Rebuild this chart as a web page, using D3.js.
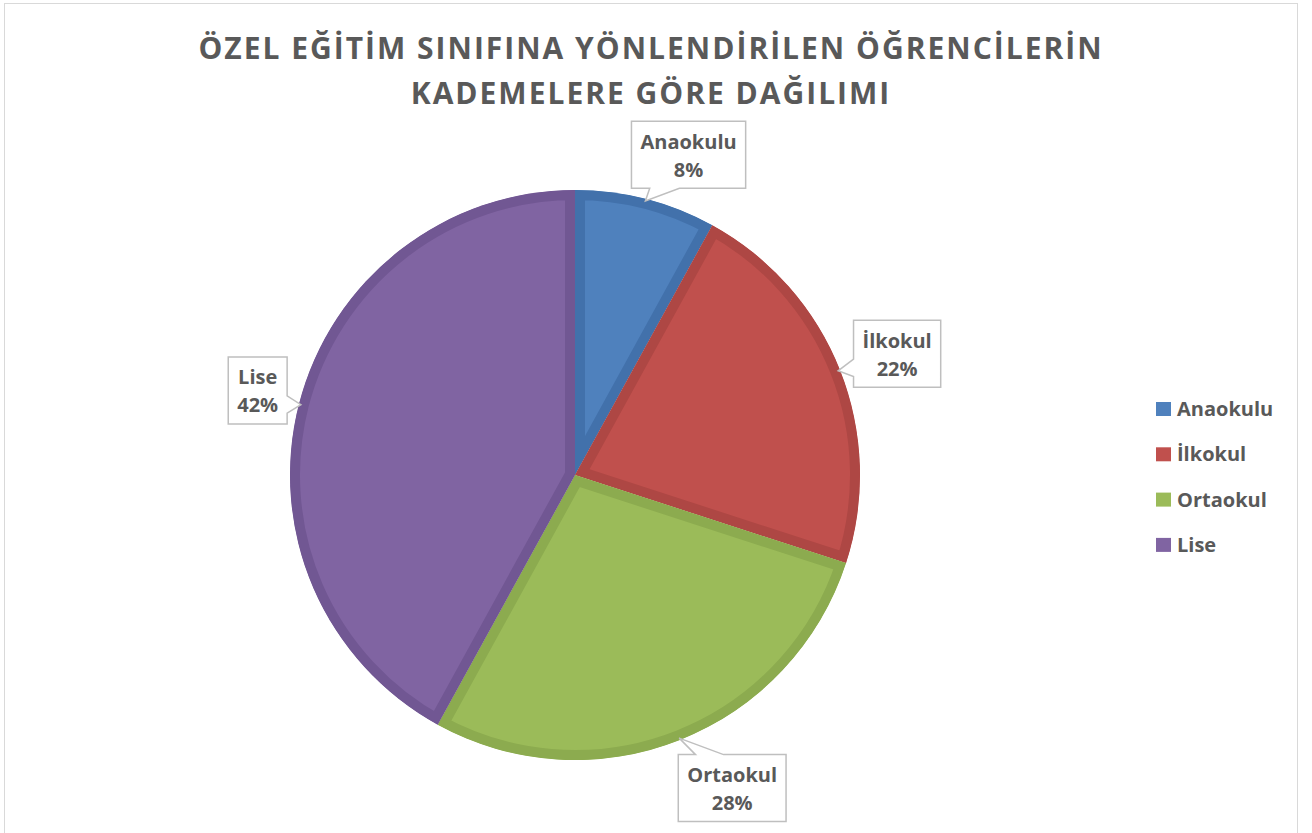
<!DOCTYPE html>
<html>
<head>
<meta charset="utf-8">
<script src="https://cdn.jsdelivr.net/npm/d3@7"></script>
<style>
  body { margin: 0; background: #fff; }
  text { font-family: "Open Sans", sans-serif; font-weight: bold; fill: #595959; }
</style>
</head>
<body>
<script>
const width = 1312;
const height = 833;

// data
const categories = ["Anaokulu", "İlkokul", "Ortaokul", "Lise"];
const values = [8, 22, 28, 42];
const fills = ["#4F81BD", "#C0504D", "#9BBB59", "#8064A2"];
const edges = ["#4271AB", "#AE4744", "#8CAB4F", "#715793"];
const titleLines = ["ÖZEL EĞİTİM SINIFINA YÖNLENDİRİLEN ÖĞRENCİLERİN", "KADEMELERE GÖRE DAĞILIMI"];

const cx = 575, cy = 475, r = 285;

const svg = d3.select("body").append("svg")
    .attr("width", width)
    .attr("height", height);

// chart frame
svg.append("rect")
    .attr("x", 4.5).attr("y", 3.5)
    .attr("width", 1293).attr("height", 840)
    .attr("fill", "#fff")
    .attr("stroke", "#D9D9D9");

// title
svg.append("text")
    .attr("x", 650)
    .attr("text-anchor", "middle")
    .style("font-size", "30px")
    .style("letter-spacing", "2px")
    .selectAll("tspan")
    .data(titleLines)
    .join("tspan")
    .attr("x", 651)
    .attr("y", (d, i) => 59 + i * 45)
    .text(d => d);

const pie = d3.pie().sort(null).value(d => d.value);
const arc = d3.arc().innerRadius(0).outerRadius(r);

const data = categories.map((c, i) => ({name: c, value: values[i], fill: fills[i], edge: edges[i]}));
const arcs = pie(data);

const g = svg.append("g").attr("transform", `translate(${cx},${cy})`);
const defs = svg.append("defs");

arcs.forEach((a, i) => {
  defs.append("clipPath").attr("id", "clip" + i)
    .append("path").attr("d", arc(a));
});

g.selectAll("path.slice")
  .data(arcs)
  .join("path")
    .attr("class", "slice")
    .attr("d", arc)
    .attr("fill", d => d.data.fill)
    .attr("stroke", d => d.data.edge)
    .attr("stroke-width", 20)
    .attr("stroke-linejoin", "miter")
    .attr("clip-path", (d, i) => `url(#clip${i})`);

// data labels with callouts
const labelOffset = [ [29, 9], [6, 4], [32, -3], [12, 0] ];
const boxH = 67;

arcs.forEach((a, i) => {
  const mid = (a.startAngle + a.endAngle) / 2;
  const tip = [Math.sin(mid) * (r - 2), -Math.cos(mid) * (r - 2)];
  const R = r + 55;
  const c = [Math.sin(mid) * R + labelOffset[i][0], -Math.cos(mid) * R + labelOffset[i][1]];

  const lg = g.append("g");
  const t = lg.append("text")
      .attr("text-anchor", "middle")
      .style("font-size", "20px");
  t.append("tspan").attr("x", c[0]).attr("y", c[1] - 6).text(a.data.name);
  t.append("tspan").attr("x", c[0]).attr("y", c[1] + 22).text(a.data.value + "%");
  const w = t.node().getBBox().width + 18;
  const x0 = c[0] - w / 2, x1 = c[0] + w / 2;
  const y0 = c[1] - boxH / 2, y1 = c[1] + boxH / 2;

  // decide which edge the pointer leaves from
  const dx = tip[0] - c[0], dy = tip[1] - c[1];
  let p;
  if (Math.abs(dy) / boxH > Math.abs(dx) / w) {
    // top or bottom edge
    const left = dx < 0;
    const b0 = left ? x0 + w * 0.16 : x1 - w * 0.42;
    const b1 = left ? x0 + w * 0.42 : x1 - w * 0.16;
    if (dy > 0) {
      p = `M${x0},${y0}H${x1}V${y1}H${b1}L${tip[0]},${tip[1]}L${b0},${y1}H${x0}Z`;
    } else {
      p = `M${x0},${y0}H${b0}L${tip[0]},${tip[1]}L${b1},${y0}H${x1}V${y1}H${x0}Z`;
    }
  } else {
    const up = dy < 0;
    const b0 = up ? y0 + boxH * 0.16 : y1 - boxH * 0.42;
    const b1 = up ? y0 + boxH * 0.42 : y1 - boxH * 0.16;
    if (dx > 0) {
      p = `M${x0},${y0}H${x1}V${b0}L${tip[0]},${tip[1]}L${x1},${b1}V${y1}H${x0}Z`;
    } else {
      p = `M${x0},${y0}H${x1}V${y1}H${x0}V${b1}L${tip[0]},${tip[1]}L${x0},${b0}Z`;
    }
  }
  lg.insert("path", "text")
    .attr("d", p)
    .attr("fill", "#fff")
    .attr("stroke", "#BFBFBF")
    .attr("stroke-width", 1.5);
});

// legend
const legend = svg.append("g").attr("transform", "translate(1156,409)");
const row = legend.selectAll("g")
  .data(data)
  .join("g")
    .attr("transform", (d, i) => `translate(0,${i * 45.3})`);
row.append("rect")
    .attr("x", 0).attr("y", -7)
    .attr("width", 15).attr("height", 14)
    .attr("fill", d => d.fill);
row.append("text")
    .attr("x", 21).attr("y", 7)
    .style("font-size", "20px")
    .text(d => d.name);
</script>
</body>
</html>
